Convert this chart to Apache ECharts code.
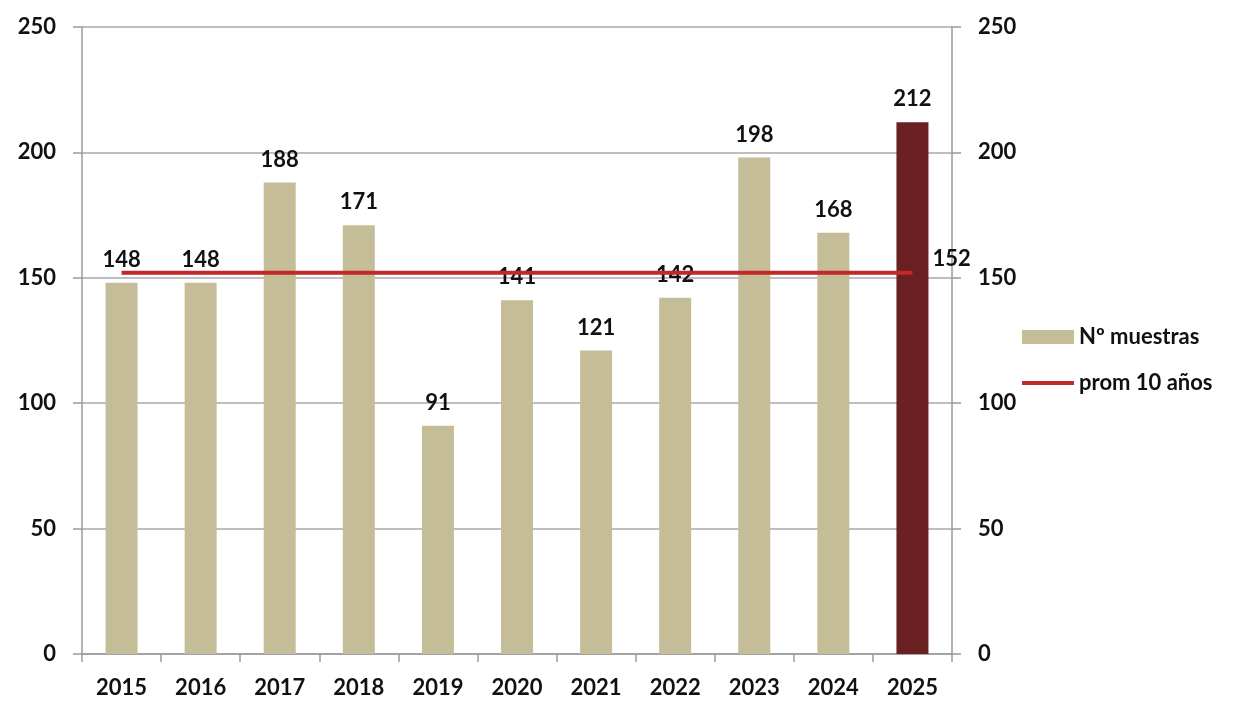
<!DOCTYPE html>
<html>
<head>
<meta charset="utf-8">
<script src="https://cdn.jsdelivr.net/npm/echarts@6/dist/echarts.min.js"></script>
<style>
html,body{margin:0;padding:0;background:#fff;}
#main{width:1250px;height:719px;}
</style>
</head>
<body>
<div id="main"></div>
<script>
// años
var years = ['2015','2016','2017','2018','2019','2020','2021','2022','2023','2024','2025'];
// nº de muestras por año
var muestras = [148,148,188,171,91,141,121,142,198,168,212];
// promedio de 10 años
var promedio = [152,152,152,152,152,152,152,152,152,152,152];
var serieNames = ['Nº muestras','prom 10 años'];

var font = 'Lato, Carlito, "Open Sans", sans-serif';

//el ultimo año va en color oscuro
var barData = muestras.map(function(v, i){
	if(i == muestras.length - 1){
		return {value: v, itemStyle: {color: '#6a1f20'}};
	}
	return v;
});

var myChart = echarts.init(document.getElementById('main'));

var yAxisBase = {
	type: 'value',
	min: 0,
	max: 250,
	interval: 50,
	axisLine: {show: true, lineStyle: {color: '#9a9a9a', width: 1.5}},
	axisTick: {show: true, length: 9, lineStyle: {color: '#9a9a9a', width: 1.5}},
	axisLabel: {fontFamily: font, fontWeight: 'bold', fontSize: 22, color: '#111', margin: 26}
};

option = {
	animation: false,
	backgroundColor: '#fff',
	grid: {left: 82, right: 298, top: 27, bottom: 65},
	legend: {
		orient: 'vertical',
		left: 1017,
		top: 321,
		itemGap: 24,
		itemWidth: 52,
		itemHeight: 14,
		textStyle: {fontFamily: font, fontWeight: 'bold', fontSize: 22, color: '#111'},
		data: [
			{name: serieNames[0], icon: 'rect'},
			{name: serieNames[1], icon: 'path://M0,0h52v4H0z'}
		]
	},
	xAxis: {
		type: 'category',
		data: years,
		axisLine: {lineStyle: {color: '#9a9a9a', width: 1.5}},
		axisTick: {show: true, length: 8, alignWithLabel: false, lineStyle: {color: '#9a9a9a', width: 1.5}},
		axisLabel: {fontFamily: font, fontWeight: 'bold', fontSize: 22, color: '#111', margin: 23}
	},
	yAxis: [
		Object.assign({}, yAxisBase, {
			position: 'left',
			splitLine: {show: true, lineStyle: {color: '#a8a8a8', width: 1.5}}
		}),
		Object.assign({}, yAxisBase, {
			position: 'right',
			splitLine: {show: false}
		})
	],
	series: [
		{
			name: serieNames[0],
			type: 'bar',
			barWidth: 32,
			itemStyle: {color: '#c4bd97'},
			label: {
				show: true,
				position: 'top',
				distance: 12,
				fontFamily: font, fontWeight: 'bold', fontSize: 22, color: '#111'
			},
			data: barData,
			z: 2
		},
		{
			name: serieNames[1],
			type: 'line',
			symbol: 'none',
			lineStyle: {color: '#c0282a', width: 4},
			itemStyle: {color: '#c0282a'},
			endLabel: {
				show: true,
				distance: 20,
				offset: [0, -14],
				fontFamily: font, fontWeight: 'bold', fontSize: 22, color: '#111'
			},
			data: promedio,
			z: 3
		}
	]
};

myChart.setOption(option);
</script>
</body>
</html>
